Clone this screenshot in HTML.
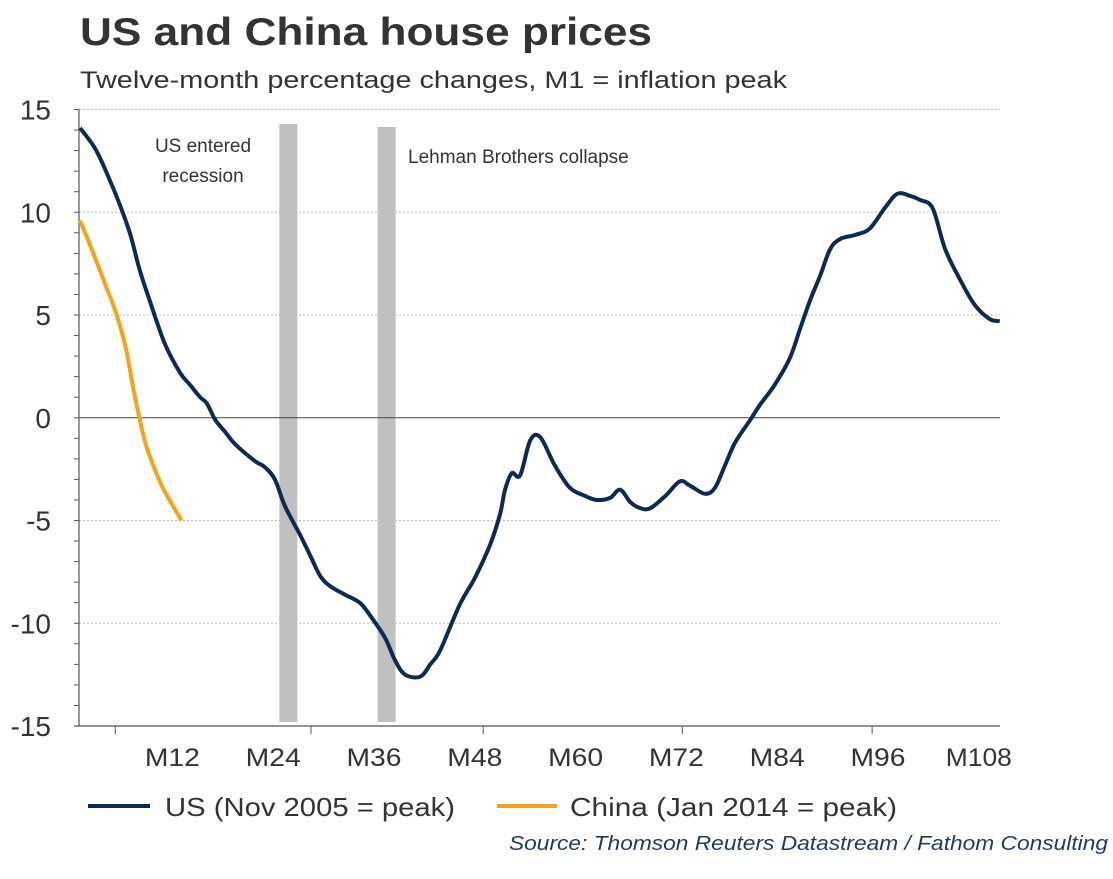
<!DOCTYPE html>
<html><head><meta charset="utf-8"><style>
html,body{margin:0;padding:0;background:#fff;}
svg{display:block;font-family:"Liberation Sans",Arial,sans-serif;}
</style></head><body>
<svg width="1113" height="879" viewBox="0 0 1113 879">
<text x="80" y="45" font-size="39" font-weight="bold" fill="#333" textLength="572" lengthAdjust="spacingAndGlyphs">US and China house prices</text>
<text x="80" y="88" font-size="24" fill="#333" textLength="707" lengthAdjust="spacingAndGlyphs">Twelve-month percentage changes, M1 = inflation peak</text>
<g id="plot"></g>
<g>
<line x1="88" y1="806" x2="150" y2="806" stroke="#0d2a55" stroke-width="4"/>
<text x="165" y="816" font-size="26" fill="#333" textLength="290" lengthAdjust="spacingAndGlyphs">US (Nov 2005 = peak)</text>
<line x1="497" y1="806" x2="557" y2="806" stroke="#f5a31a" stroke-width="4"/>
<text x="570" y="816" font-size="26" fill="#333" textLength="327" lengthAdjust="spacingAndGlyphs">China (Jan 2014 = peak)</text>
</g>
<text x="1108" y="850" font-size="20" font-style="italic" fill="#1f3b5c" text-anchor="end" textLength="599" lengthAdjust="spacingAndGlyphs">Source: Thomson Reuters Datastream / Fathom Consulting</text>
</svg>
<script>
const yTicks=[15,10,5,0,-5,-10,-15];
const xLabels=["M12","M24","M36","M48","M60","M72","M84","M96","M108"];
const xLabelMonths=[12,24,36,48,60,72,84,96,108];
const xTickMonths=[5.2,28.5,49,72.7,95.3];
const usMonths=[1,2.8,4.3,5.8,7,8.1,9.3,11.1,12.9,14.1,15.3,16.1,17.1,18.3,19.5,21.8,23,24.2,25.4,27.2,28.4,29.6,30.8,32.5,34.3,35.5,37.3,38.5,39.7,41.5,42.7,43.9,46.2,48,49.8,51,51.6,52.4,53.4,54.6,55.8,57.5,59.3,61.1,62.5,64.1,65.3,66.5,67.7,68.9,70.7,72.4,73.6,75.4,76.6,77.8,79,80.8,81.9,83.7,85.5,86.7,87.9,89.1,90.3,91.5,93.3,95,96.8,98.3,99.8,101,102.5,104,105.8,107.5,109.3,110.5];
const usValues=[14.1,13.1,11.8,10.3,8.9,7.2,5.7,3.6,2.2,1.6,1.0,0.7,-0.1,-0.7,-1.3,-2.1,-2.4,-3.0,-4.3,-5.7,-6.7,-7.7,-8.2,-8.6,-9.0,-9.6,-10.7,-11.8,-12.5,-12.6,-12.0,-11.3,-9.1,-7.8,-6.2,-4.7,-3.5,-2.7,-2.8,-1.1,-0.95,-2.3,-3.4,-3.8,-4.0,-3.9,-3.5,-4.1,-4.4,-4.4,-3.8,-3.1,-3.3,-3.7,-3.4,-2.3,-1.2,-0.1,0.6,1.6,2.9,4.3,5.7,6.9,8.2,8.7,8.9,9.2,10.2,10.9,10.8,10.6,10.2,8.2,6.7,5.5,4.8,4.7];
const chinaMonths=[1,2.2,4,5.2,6.4,7.5,8.7,9.9,11.1,13.1];
const chinaValues=[9.6,8.4,6.5,5.2,3.5,1.1,-1.1,-2.5,-3.6,-5.0];
const eventMonths=[25.8,37.5];
const eventLabels=[["US entered","recession"],["Lehman Brothers collapse"]];

const X0=79,X1=1000,Y15=109.5,Ym15=726;
const x=m=>80+(m-1)*8.4;
const y=v=>Y15+(15-v)*(Ym15-Y15)/30;
const NS="http://www.w3.org/2000/svg";
const plot=document.getElementById('plot');
function mk(tag,attrs,parent){const e=document.createElementNS(NS,tag);for(const k in attrs)e.setAttribute(k,attrs[k]);(parent||plot).appendChild(e);return e;}

yTicks.forEach(v=>{
  if(v!==0&&v!==-15){const g=mk('line',{x1:X0,x2:X1,y1:y(v),y2:y(v),stroke:'#bbb','stroke-width':1,'stroke-dasharray':'2,2'});
  
  }
  const t=mk('text',{x:51,y:y(v)+10,'font-size':28,fill:'#333','text-anchor':'end'});
  t.textContent=v;
  
  
});
for(let v=-15;v<=15;v++){const tk=mk('line',{x1:X0-5,x2:X0,y1:y(v),y2:y(v),stroke:'#555','stroke-width':1});

}
eventMonths.forEach((m,i)=>{
  const r=mk('rect',{x:x(m)-9,y:i===0?124:127,width:18,height:722-(i===0?124:127),fill:'#c0c0c0'});
  
  
});
const zl=mk('line',{x1:X0,x2:X1,y1:y(0),y2:y(0),stroke:'#444','stroke-width':1});


const ya=mk('line',{x1:X0,x2:X0,y1:Y15,y2:Ym15,stroke:'#555','stroke-width':1.2});


const xa=mk('line',{x1:X0-5,x2:X1,y1:Ym15,y2:Ym15,stroke:'#555','stroke-width':1.2});


xTickMonths.forEach(m=>{const tk=mk('line',{x1:x(m),x2:x(m),y1:Ym15,y2:Ym15+8,stroke:'#555','stroke-width':1});

});
xLabels.forEach((l,i)=>{
  const t=mk('text',{x:x(xLabelMonths[i]),y:766,'font-size':25,fill:'#333','text-anchor':'middle',textLength:l.length>3?66:55,lengthAdjust:'spacingAndGlyphs'});
  t.textContent=l;
  
  
});
const a1=mk('text',{x:203,y:152,'font-size':19,fill:'#333','text-anchor':'middle'});a1.textContent=eventLabels[0][0];


const a2=mk('text',{x:203,y:182,'font-size':19,fill:'#333','text-anchor':'middle'});a2.textContent=eventLabels[0][1];


const a3=mk('text',{x:408,y:163,'font-size':19,fill:'#333'});a3.textContent=eventLabels[1][0];



function smooth(ms,vs){
  const p=ms.map((m,i)=>[x(m),y(vs[i])]);
  let d='M'+p[0][0]+','+p[0][1];
  for(let i=0;i<p.length-1;i++){
    const p0=p[i-1]||p[i],p1=p[i],p2=p[i+1],p3=p[i+2]||p2;
    const c1=[p1[0]+(p2[0]-p0[0])/6,p1[1]+(p2[1]-p0[1])/6];
    const c2=[p2[0]-(p3[0]-p1[0])/6,p2[1]-(p3[1]-p1[1])/6];
    d+=' C'+c1+' '+c2+' '+p2;
  }
  return d;
}
const us=mk('path',{d:smooth(usMonths,usValues),fill:'none',stroke:'#0d2a55','stroke-width':4,'stroke-linejoin':'round'});


const cn=mk('path',{d:smooth(chinaMonths,chinaValues),fill:'none',stroke:'#f5a31a','stroke-width':4,'stroke-linejoin':'round'});


</script>
</body></html>
